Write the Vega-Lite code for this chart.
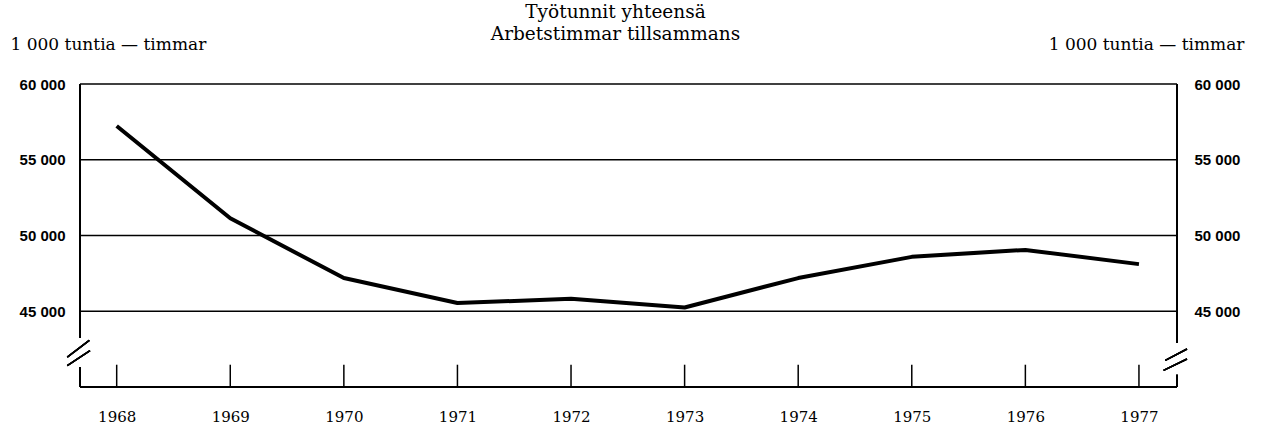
{
  "$schema": "https://vega.github.io/schema/vega-lite/v6.json",
  "width": 1097,
  "height": 303,
  "autosize": {"type": "none"},
  "padding": {"left": 80, "top": 84, "right": 85, "bottom": 45},
  "background": "white",
  "title": {
    "text": ["Työtunnit yhteensä", "Arbetstimmar tillsammans"],
    "font": "DejaVu Serif",
    "fontSize": 18.5,
    "fontWeight": "normal",
    "color": "black",
    "anchor": "middle",
    "baseline": "bottom",
    "offset": -27,
    "dx": -13,
    "lineHeight": 22
  },
  "datasets": {
    "hours": [
      {"year": 1968, "hours": 57230},
      {"year": 1969, "hours": 51140},
      {"year": 1970, "hours": 47190},
      {"year": 1971, "hours": 45540},
      {"year": 1972, "hours": 45820},
      {"year": 1973, "hours": 45250},
      {"year": 1974, "hours": 47190},
      {"year": 1975, "hours": 48590},
      {"year": 1976, "hours": 49050},
      {"year": 1977, "hours": 48110}
    ],
    "grid": [
      {"v": 45000}, {"v": 50000}, {"v": 55000}, {"v": 60000}
    ]
  },
  "layer": [
    {
      "layer": [
        {
          "data": {"name": "grid"},
          "mark": {"type": "rule", "color": "black", "strokeWidth": 1.5},
          "encoding": {
            "y": {
              "field": "v",
              "type": "quantitative",
              "scale": {"domain": [40000, 60000], "nice": false, "zero": false},
              "axis": {
                "orient": "left",
                "values": [45000, 50000, 55000, 60000],
                "labelExpr": "replace(format(datum.value, ',d'), ',', ' ')",
                "grid": false,
                "domain": false,
                "ticks": false,
                "tickSize": 0,
                "labelPadding": 15,
                "labelFont": "Liberation Sans",
                "labelFontSize": 15,
                "labelFontWeight": "bold",
                "labelColor": "black",
                "title": "1 000 tuntia — timmar",
                "titleAngle": 0,
                "titleAlign": "left",
                "titleBaseline": "alphabetic",
                "titleX": -70,
                "titleY": -35,
                "titleFont": "DejaVu Serif",
                "titleFontSize": 17,
                "titleFontWeight": "normal",
                "titleColor": "black"
              }
            }
          }
        },
        {
          "data": {"name": "grid"},
          "mark": {"type": "rule", "color": "black", "strokeWidth": 2},
          "encoding": {"y": {"datum": 40000, "type": "quantitative"}}
        },
        {
          "data": {"name": "grid"},
          "mark": {"type": "rule", "color": "black", "strokeWidth": 2},
          "encoding": {
            "x": {"datum": 1967.677, "type": "quantitative"},
            "y": {"datum": 60000, "type": "quantitative"},
            "y2": {"datum": 43251}
          }
        },
        {
          "data": {"name": "grid"},
          "mark": {"type": "rule", "color": "black", "strokeWidth": 2},
          "encoding": {
            "x": {"datum": 1967.677, "type": "quantitative"},
            "y": {"datum": 41319, "type": "quantitative"},
            "y2": {"datum": 40000}
          }
        },
        {
          "data": {"name": "grid"},
          "mark": {"type": "rule", "color": "black", "strokeWidth": 2},
          "encoding": {
            "x": {"datum": 1977.335, "type": "quantitative"},
            "y": {"datum": 60000, "type": "quantitative"},
            "y2": {"datum": 42902}
          }
        },
        {
          "data": {"name": "grid"},
          "mark": {"type": "rule", "color": "black", "strokeWidth": 2},
          "encoding": {
            "x": {"datum": 1977.335, "type": "quantitative"},
            "y": {"datum": 40811, "type": "quantitative"},
            "y2": {"datum": 40000}
          }
        },
        {
          "data": {"name": "grid"},
          "mark": {"type": "rule", "color": "black", "strokeWidth": 1.5},
          "encoding": {
            "x": {"datum": 1967.565, "type": "quantitative"},
            "x2": {"datum": 1967.759},
            "y": {"datum": 41978, "type": "quantitative"},
            "y2": {"datum": 43073}
          }
        },
        {
          "data": {"name": "grid"},
          "mark": {"type": "rule", "color": "black", "strokeWidth": 1.5},
          "encoding": {
            "x": {"datum": 1967.565, "type": "quantitative"},
            "x2": {"datum": 1967.765},
            "y": {"datum": 41405, "type": "quantitative"},
            "y2": {"datum": 42394}
          }
        },
        {
          "data": {"name": "grid"},
          "mark": {"type": "rule", "color": "black", "strokeWidth": 1.5},
          "encoding": {
            "x": {"datum": 1977.232, "type": "quantitative"},
            "x2": {"datum": 1977.423},
            "y": {"datum": 41754, "type": "quantitative"},
            "y2": {"datum": 42506}
          }
        },
        {
          "data": {"name": "grid"},
          "mark": {"type": "rule", "color": "black", "strokeWidth": 1.5},
          "encoding": {
            "x": {"datum": 1977.217, "type": "quantitative"},
            "x2": {"datum": 1977.423},
            "y": {"datum": 41095, "type": "quantitative"},
            "y2": {"datum": 41847}
          }
        },
        {
          "data": {"name": "hours"},
          "mark": {"type": "rule", "color": "black", "strokeWidth": 1.5},
          "encoding": {
            "x": {
              "field": "year",
              "type": "quantitative",
              "scale": {"domain": [1967.677, 1977.335], "nice": false, "zero": false},
              "axis": {
                "values": [1968, 1969, 1970, 1971, 1972, 1973, 1974, 1975, 1976, 1977],
                "format": "d",
                "grid": false,
                "domain": false,
                "ticks": false,
                "tickSize": 0,
                "labelPadding": 22,
                "labelFont": "DejaVu Serif",
                "labelFontSize": 15,
                "labelColor": "black",
                "title": null
              }
            },
            "y": {"datum": 40000, "type": "quantitative"},
            "y2": {"datum": 41471}
          }
        },
        {
          "data": {"name": "hours"},
          "mark": {"type": "line", "color": "black", "strokeWidth": 4, "strokeJoin": "round", "strokeCap": "butt"},
          "encoding": {
            "x": {"field": "year", "type": "quantitative"},
            "y": {"field": "hours", "type": "quantitative"}
          }
        }
      ]
    },
    {
      "data": {"name": "hours"},
      "mark": {"type": "line", "opacity": 0},
      "encoding": {
        "x": {"field": "year", "type": "quantitative"},
        "y": {
          "field": "hours",
          "type": "quantitative",
          "scale": {"domain": [40000, 60000], "nice": false, "zero": false},
          "axis": {
            "orient": "right",
            "values": [45000, 50000, 55000, 60000],
            "labelExpr": "replace(format(datum.value, ',d'), ',', ' ')",
            "grid": false,
            "domain": false,
            "ticks": false,
            "tickSize": 0,
            "labelPadding": 17,
            "labelFont": "Liberation Sans",
            "labelFontSize": 15,
            "labelFontWeight": "bold",
            "labelColor": "black",
            "title": "1 000 tuntia — timmar",
            "titleAngle": 0,
            "titleAlign": "right",
            "titleBaseline": "alphabetic",
            "titleX": 67,
            "titleY": -35,
            "titleFont": "DejaVu Serif",
            "titleFontSize": 17,
            "titleFontWeight": "normal",
            "titleColor": "black"
          }
        }
      }
    }
  ],
  "resolve": {"scale": {"y": "independent"}},
  "config": {"view": {"stroke": null}}
}
